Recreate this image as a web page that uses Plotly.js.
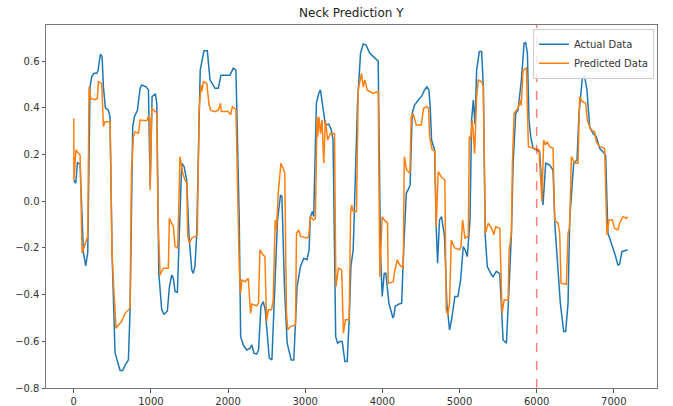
<!DOCTYPE html>
<html>
<head>
<meta charset="utf-8">
<script src="https://cdn.plot.ly/plotly-3.0.1.min.js"></script>
<style>html,body{margin:0;padding:0;background:#fff;}#chart{width:673px;height:406px;}</style>
</head>
<body>
<div id="chart"></div>
<script>
var actualX = [0,26,47,82,125,155,181,211,233,263,298,315,345,367,384,410,448,470,496,535,600,634,669,708,730,751,764,786,825,860,881,937,968,990,1015,1058,1076,1102,1140,1170,1213,1240,1270,1291,1313,1343,1369,1399,1429,1464,1494,1529,1549,1570,1593,1639,1688,1731,1766,1830,1873,1908,2025,2068,2102,2145,2163,2197,2240,2283,2309,2335,2370,2395,2426,2456,2482,2534,2568,2611,2641,2680,2698,2731,2766,2818,2852,2895,2938,2981,3024,3050,3067,3093,3110,3145,3175,3197,3231,3262,3305,3335,3361,3395,3420,3449,3480,3514,3544,3570,3592,3622,3678,3717,3752,3786,3838,3881,3924,3946,3976,3998,4024,4045,4085,4137,4150,4167,4219,4250,4271,4293,4310,4344,4360,4387,4417,4482,4510,4547,4577,4603,4620,4638,4677,4698,4716,4741,4767,4806,4836,4871,4897,4940,4980,5014,5049,5075,5101,5136,5157,5179,5201,5222,5257,5287,5309,5334,5360,5416,5435,5478,5522,5565,5608,5643,5673,5695,5729,5759,5802,5837,5858,5880,5901,5923,5953,5996,6039,6082,6117,6169,6212,6238,6277,6307,6350,6376,6407,6428,6480,6523,6549,6592,6622,6652,6687,6730,6773,6816,6859,6894,6924,6954,7010,7053,7075,7105,7179];
var actualY = [0.09,0.077,0.165,0.16,-0.22,-0.277,-0.22,0.49,0.534,0.548,0.548,0.56,0.63,0.62,0.49,0.40,0.39,0.362,-0.22,-0.65,-0.725,-0.725,-0.70,-0.68,-0.465,0.063,0.32,0.362,0.39,0.484,0.498,0.49,0.477,0.063,0.448,0.46,0.42,-0.308,-0.465,-0.484,-0.47,-0.366,-0.316,-0.33,-0.387,-0.39,-0.08,0.163,0.15,0.09,-0.15,-0.294,-0.309,-0.28,-0.15,0.562,0.645,0.645,0.52,0.484,0.484,0.54,0.54,0.57,0.562,-0.08,-0.58,-0.615,-0.637,-0.63,-0.615,-0.651,-0.655,-0.637,-0.451,-0.43,-0.465,-0.672,-0.68,-0.366,-0.08,0.027,0.02,-0.366,-0.608,-0.68,-0.68,-0.366,-0.28,-0.244,-0.25,-0.208,-0.066,-0.044,-0.066,0.42,0.462,0.477,0.405,0.327,0.33,0.31,0.262,-0.58,-0.608,-0.601,-0.601,-0.687,-0.687,-0.508,-0.28,-0.208,0.42,0.634,0.674,0.67,0.634,0.62,0.605,0.60,-0.222,-0.408,-0.308,-0.308,-0.437,-0.50,-0.49,-0.45,-0.44,-0.437,-0.25,-0.08,0.034,0.056,0.07,0.377,0.412,0.44,0.45,0.477,0.49,0.477,0.405,0.262,0.22,-0.109,-0.266,-0.08,-0.066,-0.152,-0.437,-0.551,-0.508,-0.408,-0.408,-0.337,-0.194,-0.21,-0.237,-0.08,0.348,0.434,0.33,0.562,0.641,0.641,0.49,-0.15,-0.28,-0.316,-0.323,-0.30,-0.31,-0.594,-0.608,-0.366,-0.137,0.163,0.377,0.39,0.52,0.677,0.68,0.634,0.348,0.277,0.227,0.22,0.212,-0.016,0.163,0.155,0.134,-0.109,-0.294,-0.437,-0.558,-0.558,-0.437,-0.08,0.163,0.177,0.377,0.527,0.534,0.477,0.32,0.29,0.277,0.227,0.212,0.198,-0.137,-0.166,-0.222,-0.273,-0.27,-0.216,-0.208];

var predX = [0,2,17,30,60,82,108,134,168,181,198,220,276,306,319,362,384,405,470,496,522,548,578,621,664,730,747,773,795,838,860,946,968,985,990,1011,1054,1076,1093,1119,1162,1226,1239,1270,1291,1313,1347,1377,1412,1442,1464,1477,1498,1529,1585,1602,1624,1650,1659,1680,1724,1754,1775,1830,1873,1903,1910,2003,2033,2055,2102,2145,2163,2180,2219,2262,2275,2292,2309,2370,2395,2413,2456,2478,2499,2521,2564,2585,2611,2628,2650,2672,2685,2715,2735,2757,2774,2809,2874,2887,2917,2938,3024,3045,3067,3110,3132,3153,3162,3179,3197,3218,3240,3262,3292,3326,3380,3395,3400,3430,3473,3495,3521,3560,3570,3588,3601,3622,3665,3687,3708,3730,3752,3773,3803,3838,3881,3946,3967,3998,4024,4067,4076,4141,4163,4193,4227,4271,4284,4314,4357,4374,4396,4439,4504,4534,4577,4600,4612,4646,4681,4698,4724,4763,4810,4827,4849,4871,4893,4936,5001,5020,5040,5071,5114,5127,5145,5166,5196,5222,5244,5287,5309,5334,5373,5416,5446,5469,5522,5552,5578,5630,5643,5673,5686,5708,5759,5789,5800,5824,5867,5893,5953,6030,6069,6091,6117,6134,6169,6212,6234,6277,6299,6316,6385,6407,6428,6450,6493,6536,6558,6592,6635,6657,6700,6752,6773,6816,6881,6911,6937,6980,7010,7053,7075,7119,7162,7179];
var predY = [0.355,0.09,0.17,0.22,0.205,0.198,-0.222,-0.194,-0.166,-0.15,0.49,0.44,0.435,0.44,0.512,0.505,0.32,0.341,0.341,-0.222,-0.394,-0.544,-0.53,-0.515,-0.48,-0.458,0.12,0.277,0.298,0.291,0.348,0.345,0.362,0.355,0.048,0.398,0.384,0.38,-0.08,-0.316,-0.287,-0.287,-0.073,-0.094,-0.109,-0.194,-0.20,0.191,0.12,0.091,0.077,-0.15,-0.18,-0.158,-0.15,-0.14,0.39,0.498,0.47,0.512,0.505,0.412,0.39,0.384,0.39,0.42,0.384,0.384,0.37,0.405,0.394,-0.287,-0.394,-0.337,-0.345,-0.33,-0.408,-0.48,-0.44,-0.448,-0.437,-0.208,-0.23,-0.237,-0.515,-0.465,-0.465,-0.423,-0.08,-0.123,0.034,0.105,0.163,0.14,0.12,-0.48,-0.551,-0.537,-0.53,-0.137,-0.123,-0.15,-0.158,-0.15,-0.066,-0.08,-0.073,0.362,0.277,0.362,0.29,0.348,0.163,0.348,0.262,0.29,0.29,-0.28,-0.366,-0.287,-0.294,-0.565,-0.508,-0.508,-0.508,-0.051,-0.016,-0.044,-0.044,0.477,0.512,0.548,0.49,0.52,0.477,0.47,0.462,0.47,-0.323,-0.066,-0.08,-0.094,-0.351,-0.345,-0.294,-0.251,-0.273,-0.287,0.191,0.134,0.12,0.362,0.377,0.327,0.327,0.398,0.405,0.398,0.277,0.22,0.215,-0.109,0.127,0.105,0.091,-0.465,-0.487,-0.437,-0.166,-0.20,-0.208,-0.194,-0.08,-0.158,-0.15,0.277,0.265,0.348,0.205,0.448,0.52,0.512,0.49,-0.137,-0.094,-0.116,-0.144,-0.109,-0.116,-0.48,-0.423,-0.423,-0.208,-0.137,0.163,0.377,0.398,0.434,0.41,0.562,0.57,0.234,0.227,0.22,-0.001,0.262,0.241,0.255,0.234,0.227,-0.08,-0.094,-0.137,-0.351,-0.356,-0.137,-0.109,0.191,0.163,0.163,0.448,0.427,0.42,0.348,0.305,0.298,0.255,0.234,0.227,-0.144,-0.08,-0.08,-0.116,-0.123,-0.094,-0.066,-0.073,-0.066];

var xTickVals = [0,1000,2000,3000,4000,5000,6000,7000];
var xTickText = ['0','1000','2000','3000','4000','5000','6000','7000'];
var yTickVals = [-0.8,-0.6,-0.4,-0.2,0,0.2,0.4,0.6];
var yTickText = ['\u22120.8','\u22120.6','\u22120.4','\u22120.2','0.0','0.2','0.4','0.6'];
var splitX = 6000;

var traces = [
  {x: actualX, y: actualY, type: 'scatter', mode: 'lines', name: 'Actual Data',
   line: {color: '#1f77b4', width: 1.5}},
  {x: predX, y: predY, type: 'scatter', mode: 'lines', name: 'Predicted Data',
   line: {color: '#ff7f0e', width: 1.5}}
];

var axisFont = {family: 'DejaVu Sans', size: 10, color: '#333'};
var layout = {
  width: 673, height: 406,
  margin: {l: 46, r: 16, t: 25, b: 18, pad: 0},
  paper_bgcolor: '#fff', plot_bgcolor: '#fff',
  title: {text: 'Neck Prediction Y', x: 0.522, xanchor: 'center', y: 0.968, yanchor: 'middle',
          font: {family: 'DejaVu Sans', size: 12, color: '#222'}},
  showlegend: true,
  legend: {x: 0.995, y: 0.99, xanchor: 'right', yanchor: 'top',
           bgcolor: 'rgba(255,255,255,0.8)', bordercolor: '#ccc', borderwidth: 1,
           font: {family: 'DejaVu Sans', size: 10, color: '#333'},
           tracegroupgap: 0, itemwidth: 30},
  xaxis: {range: [-360, 7560], tickvals: xTickVals, ticktext: xTickText,
          showgrid: false, zeroline: false, showline: true, mirror: true,
          linecolor: '#777', linewidth: 1, ticks: 'outside', ticklen: 3.5,
          tickcolor: '#555', tickfont: axisFont},
  yaxis: {range: [-0.8, 0.755], tickvals: yTickVals, ticktext: yTickText,
          showgrid: false, zeroline: false, showline: true, mirror: true,
          linecolor: '#777', linewidth: 1, ticks: 'outside', ticklen: 3.5,
          tickcolor: '#555', tickfont: axisFont},
  shapes: [{type: 'line', xref: 'x', yref: 'paper', x0: splitX, x1: splitX, y0: 0, y1: 1,
            line: {color: 'rgba(255,0,0,0.5)', width: 1.5, dash: 'dash'}}]
};

Plotly.newPlot('chart', traces, layout, {staticPlot: true, displayModeBar: false});
</script>
</body>
</html>
